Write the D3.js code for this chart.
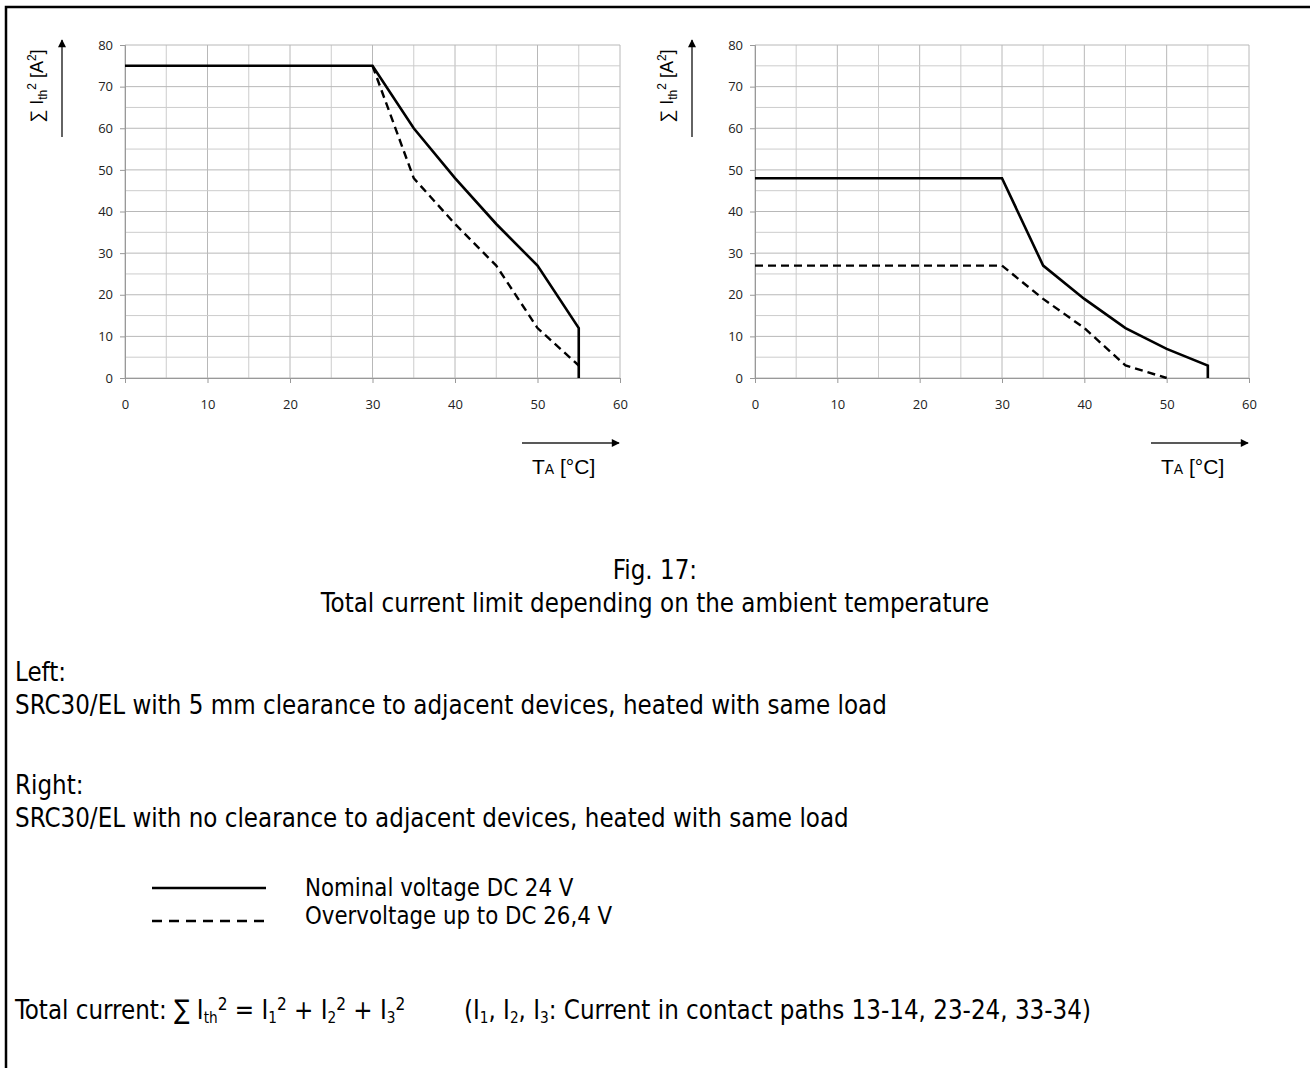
<!DOCTYPE html>
<html>
<head>
<meta charset="utf-8">
<script src="https://cdn.jsdelivr.net/npm/d3@7"></script>
<style>
  body { margin: 0; background: #fff; }
  .narrow { font-family: "Liberation Sans Narrow", "DejaVu Sans Condensed", sans-serif; fill: #000; }
  .tick text { font-family: "Open Sans", sans-serif; font-size: 13px; fill: #222; }
</style>
</head>
<body>
<svg width="1310" height="1068"></svg>
<script>
// temperatures (x axis)
var temps = [0, 30, 35, 40, 45, 50, 55, 55];
// left chart: 5 mm clearance
var leftNominal = [75, 75, 60, 48, 37, 27, 12, 0];
var leftOver = [null, 75, 48, 37, 27, 12, 3, null];
// right chart: no clearance
var rightNominal = [48, 48, 27, 19, 12, 7, 3, 0];
var rightOver = [27, 27, 19, 12, 3, 0, null, null];

var xTicks = [0, 10, 20, 30, 40, 50, 60];
var yTicks = [0, 10, 20, 30, 40, 50, 60, 70, 80];

var svg = d3.select("svg");

// frame
svg.append("path")
  .attr("d", "M6,1068 V7 H1310")
  .attr("fill", "none")
  .attr("stroke", "#000")
  .attr("stroke-width", 2.5);

svg.append("defs").append("marker")
  .attr("id", "arr")
  .attr("viewBox", "0 0 10 10")
  .attr("refX", 9).attr("refY", 5)
  .attr("markerWidth", 9).attr("markerHeight", 8)
  .attr("markerUnits", "userSpaceOnUse")
  .attr("orient", "auto")
  .append("path")
  .attr("d", "M0,0 L10,5 L0,10 z")
  .attr("fill", "#000");

var drawChart = function(x0, x1, nominal, over) {
  var x = d3.scaleLinear().domain([0, 60]).range([x0, x1]);
  var y = d3.scaleLinear().domain([0, 80]).range([378, 45]);
  var g = svg.append("g");

  // grid every 5 units
  d3.range(0, 61, 5).forEach(function(v) {
    g.append("line")
      .attr("x1", x(v)).attr("x2", x(v))
      .attr("y1", y(0)).attr("y2", y(80))
      .attr("stroke", v % 10 == 0 ? "#b8b8b8" : "#cccccc")
      .attr("stroke-width", 1);
  });
  d3.range(0, 81, 5).forEach(function(v) {
    g.append("line")
      .attr("x1", x(0)).attr("x2", x(60))
      .attr("y1", y(v)).attr("y2", y(v))
      .attr("stroke", v % 10 == 0 ? "#b8b8b8" : "#cccccc")
      .attr("stroke-width", 1);
  });

  var xAxis = g.append("g")
    .attr("transform", "translate(0," + y(0) + ")")
    .call(d3.axisBottom(x).tickValues(xTicks).tickSize(5).tickPadding(17));
  var yAxis = g.append("g")
    .attr("transform", "translate(" + x(0) + ",0)")
    .call(d3.axisLeft(y).tickValues(yTicks).tickSize(5).tickPadding(7));
  [xAxis, yAxis].forEach(function(a) {
    a.select(".domain").attr("stroke", "#999");
    a.selectAll(".tick line").attr("stroke", "#999");
  });

  var line = d3.line()
    .defined(function(d) { return d[1] != null; })
    .x(function(d) { return x(d[0]); })
    .y(function(d) { return y(d[1]); });

  g.append("path")
    .datum(temps.map(function(t, i) { return [t, nominal[i]]; }))
    .attr("d", line)
    .attr("fill", "none")
    .attr("stroke", "#000")
    .attr("stroke-width", 2.6);
  g.append("path")
    .datum(temps.map(function(t, i) { return [t, over[i]]; }))
    .attr("d", line)
    .attr("fill", "none")
    .attr("stroke", "#000")
    .attr("stroke-width", 2.4)
    .attr("stroke-dasharray", "8,5");

  // y axis arrow + label
  var ax = x0 - 63;
  g.append("line")
    .attr("x1", ax).attr("x2", ax)
    .attr("y1", 137).attr("y2", 40)
    .attr("stroke", "#222").attr("stroke-width", 1.4)
    .attr("marker-end", "url(#arr)");
  var yl = g.append("text")
    .attr("transform", "translate(" + (ax - 19) + ",86) rotate(-90)")
    .attr("text-anchor", "middle")
    .attr("font-family", "Liberation Sans, Arial, sans-serif")
    .attr("font-size", 18);
  yl.append("tspan").text("\u2211 I");
  yl.append("tspan").attr("font-size", 12).attr("dy", 4).text("th");
  yl.append("tspan").attr("font-size", 12).attr("dy", -11).text("2");
  yl.append("tspan").attr("dy", 7).text(" [A");
  yl.append("tspan").attr("font-size", 12).attr("dy", -7).text("2");
  yl.append("tspan").attr("dy", 7).text("]");

  // x axis arrow + label
  g.append("line")
    .attr("x1", x(60) - 98).attr("x2", x(60) - 1)
    .attr("y1", 443).attr("y2", 443)
    .attr("stroke", "#222").attr("stroke-width", 1.4)
    .attr("marker-end", "url(#arr)");
  var xl = g.append("text")
    .attr("x", x(60) - 88).attr("y", 474)
    .attr("font-family", "Liberation Sans, Arial, sans-serif")
    .attr("font-size", 21);
  xl.append("tspan").text("T");
  xl.append("tspan").attr("font-size", 14).text("A");
  xl.append("tspan").text(" [\u00b0C]");
};

drawChart(125, 620, leftNominal, leftOver);
drawChart(755, 1249, rightNominal, rightOver);

// condensed text helper
var sx = 0.95;
var txt = function(x, y, s, anchor, size) {
  return svg.append("text").attr("class", "narrow")
    .attr("transform", "translate(" + x + "," + y + ") scale(" + sx + ",1)")
    .attr("text-anchor", anchor || "start")
    .attr("font-size", size || 27)
    .text(s);
};

// caption
txt(655, 579, "Fig. 17:", "middle");
txt(655, 612, "Total current limit depending on the ambient temperature", "middle");

txt(15, 681, "Left:");
txt(15, 714, "SRC30/EL with 5 mm clearance to adjacent devices, heated with same load");
txt(15, 794, "Right:");
txt(15, 827, "SRC30/EL with no clearance to adjacent devices, heated with same load");

// legend
svg.append("line")
  .attr("x1", 152).attr("x2", 266).attr("y1", 888).attr("y2", 888)
  .attr("stroke", "#000").attr("stroke-width", 2.5);
svg.append("line")
  .attr("x1", 152).attr("x2", 266).attr("y1", 921).attr("y2", 921)
  .attr("stroke", "#000").attr("stroke-width", 2.5)
  .attr("stroke-dasharray", "10,7");
txt(305, 896, "Nominal voltage DC 24 V", "start", 25);
txt(305, 924, "Overvoltage up to DC 26,4 V", "start", 25);

// formula
var f = txt(15, 1019, "");
f.append("tspan").text("Total current: \u2211 I");
f.append("tspan").attr("font-size", 16).attr("dy", 4).text("th");
f.append("tspan").attr("font-size", 18).attr("dy", -13).text("2");
f.append("tspan").attr("dy", 9).text(" = I");
f.append("tspan").attr("font-size", 16).attr("dy", 4).text("1");
f.append("tspan").attr("font-size", 18).attr("dy", -13).text("2");
f.append("tspan").attr("dy", 9).text(" + I");
f.append("tspan").attr("font-size", 16).attr("dy", 4).text("2");
f.append("tspan").attr("font-size", 18).attr("dy", -13).text("2");
f.append("tspan").attr("dy", 9).text(" + I");
f.append("tspan").attr("font-size", 16).attr("dy", 4).text("3");
f.append("tspan").attr("font-size", 18).attr("dy", -13).text("2");
f.append("tspan").attr("dy", 9).text("\u00a0\u00a0\u00a0\u00a0\u00a0\u00a0\u00a0\u00a0(I");
f.append("tspan").attr("font-size", 16).attr("dy", 4).text("1");
f.append("tspan").attr("dy", -4).text(", I");
f.append("tspan").attr("font-size", 16).attr("dy", 4).text("2");
f.append("tspan").attr("dy", -4).text(", I");
f.append("tspan").attr("font-size", 16).attr("dy", 4).text("3");
f.append("tspan").attr("dy", -4).text(": Current in contact paths 13-14, 23-24, 33-34)");
</script>
</body>
</html>
